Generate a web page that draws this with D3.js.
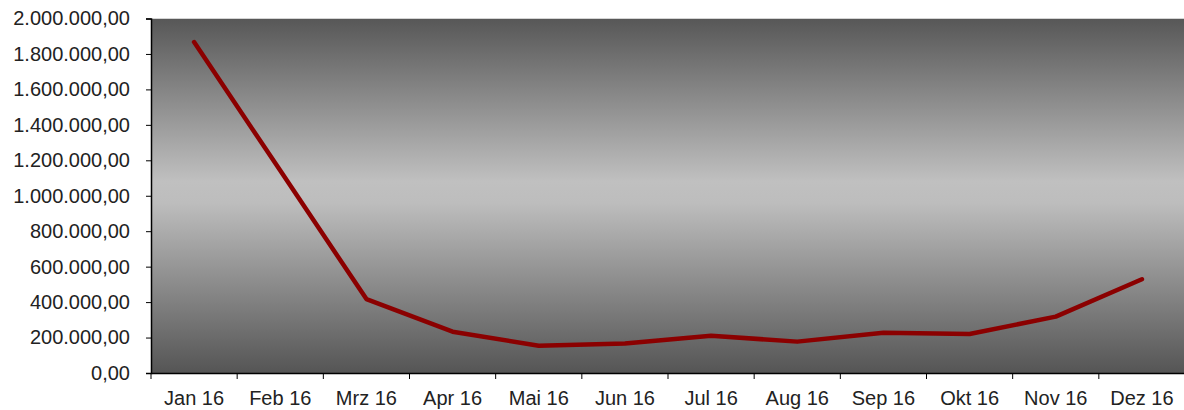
<!DOCTYPE html>
<html>
<head>
<meta charset="utf-8">
<script src="https://cdn.jsdelivr.net/npm/d3@7"></script>
<style>
  body { margin: 0; background: #fff; }
  text { font-family: "Liberation Sans", Arial, sans-serif; }
</style>
</head>
<body>
<script>
const width = 1184;
const height = 410;
const marginTop = 18.5;
const marginRight = -1;
const marginBottom = 37;
const marginLeft = 151;

const months = ["Jan 16", "Feb 16", "Mrz 16", "Apr 16", "Mai 16", "Jun 16",
                "Jul 16", "Aug 16", "Sep 16", "Okt 16", "Nov 16", "Dez 16"];
const values = [1867000, 1142000, 417000, 233000, 154000, 167000,
                210000, 177000, 227000, 220000, 318000, 529000];
const yTicks = [0, 200000, 400000, 600000, 800000, 1000000,
                1200000, 1400000, 1600000, 1800000, 2000000];

const x = d3.scaleBand()
    .domain(months)
    .range([marginLeft, width - marginRight]);

const y = d3.scaleLinear()
    .domain([0, 2000000])
    .range([height - marginBottom, marginTop]);

const fmt = d3.formatLocale({decimal: ",", thousands: ".", grouping: [3], currency: ["", "€"]}).format(",.2f");

const svg = d3.select("body")
    .append("svg")
    .attr("width", width)
    .attr("height", height);

// background gradient of the plot area
const grad = svg.append("defs").append("linearGradient")
    .attr("id", "bg")
    .attr("x1", 0).attr("y1", 0).attr("x2", 0).attr("y2", 1);
grad.append("stop").attr("offset", "0").attr("stop-color", "#575757");
grad.append("stop").attr("offset", "0.46").attr("stop-color", "#c0c0c0");
grad.append("stop").attr("offset", "0.52").attr("stop-color", "#bdbdbd");
grad.append("stop").attr("offset", "1").attr("stop-color", "#555555");

svg.append("rect")
    .attr("x", marginLeft)
    .attr("y", y(2000000))
    .attr("width", width - marginLeft + 2)
    .attr("height", y(0) - y(2000000))
    .attr("fill", "url(#bg)");

// thin light edge on top
svg.append("line")
    .attr("x1", marginLeft).attr("x2", width)
    .attr("y1", y(2000000)).attr("y2", y(2000000))
    .attr("stroke", "#d4d4d4")
    .attr("stroke-width", 1);

// y axis
const yAxis = svg.append("g")
    .attr("transform", `translate(${marginLeft},0)`)
    .call(d3.axisLeft(y).tickValues(yTicks).tickFormat(fmt).tickSize(5).tickPadding(16));
yAxis.select(".domain").attr("stroke", "#000").attr("stroke-width", 1.5);
yAxis.selectAll(".tick line").attr("stroke", "#000");
yAxis.selectAll(".tick text")
    .attr("font-size", 20)
    .attr("fill", "#222")
    .attr("font-family", "Liberation Sans, Arial, sans-serif");

// x axis
const xAxis = svg.append("g")
    .attr("transform", `translate(0,${y(0)})`)
    .call(d3.axisBottom(x).tickSize(0).tickPadding(18));
xAxis.select(".domain").attr("stroke", "#000").attr("stroke-width", 1.5);
xAxis.selectAll(".tick text")
    .attr("font-size", 20)
    .attr("fill", "#222")
    .attr("font-family", "Liberation Sans, Arial, sans-serif");

// category separators (ticks between bands)
svg.append("g")
    .selectAll("line")
    .data(months)
    .join("line")
    .attr("x1", d => x(d))
    .attr("x2", d => x(d))
    .attr("y1", y(0))
    .attr("y2", y(0) + 6)
    .attr("stroke", "#000")
    .attr("stroke-width", 1);

// series line
const line = d3.line()
    .x((d, i) => x(months[i]) + x.bandwidth() / 2)
    .y(d => y(d));

svg.append("path")
    .datum(values)
    .attr("d", line)
    .attr("fill", "none")
    .attr("stroke", "#8b0000")
    .attr("stroke-width", 4.5)
    .attr("stroke-linejoin", "round")
    .attr("stroke-linecap", "round");
</script>
</body>
</html>
